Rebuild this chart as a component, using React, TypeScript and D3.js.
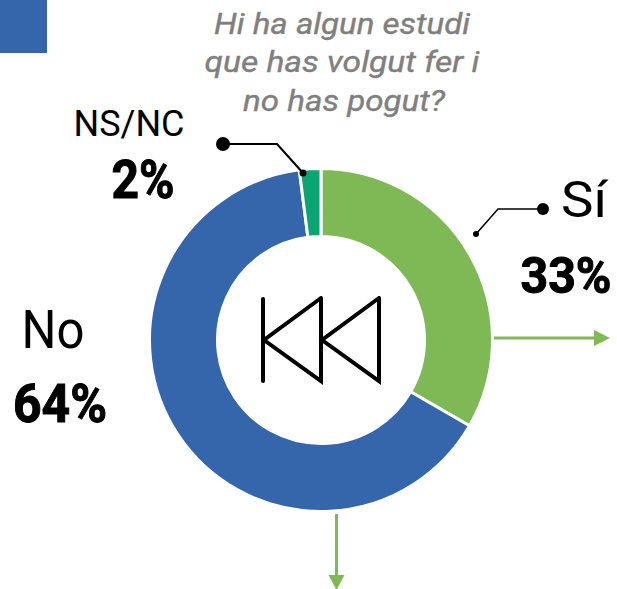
import React from "react";
import * as d3 from "d3";

const categories = ["Sí", "No", "NS/NC"];
const values = [33, 64, 2];
const percentLabels = ["33%", "64%", "2%"];
const sliceColors = ["#7FB955", "#3565AB", "#0AA573"];
const titleLines = ["Hi ha algun estudi", "que has volgut fer i", "no has pogut?"];
const FONT = "Roboto, sans-serif";

const W = 617, H = 589, CX = 321, CY = 340;

function Txt({ x, y, size, weight = 400, w, children, style = "normal", fill = "#000", bold = 0 }: any) {
  return (
    <text x={x} y={y} fontSize={size} fontWeight={weight} fontStyle={style} fill={fill} stroke={bold ? fill : "none"} strokeWidth={bold} fontFamily={FONT}
      textAnchor="middle" textLength={w} lengthAdjust="spacingAndGlyphs">{children}</text>
  );
}

export default function App() {
  const pie = d3.pie<number>().sort(null).value((d) => d);
  const arc = d3.arc<d3.PieArcDatum<number>>().innerRadius(103.5).outerRadius(171.5);
  const arcs = pie(values);
  const line = d3.line();
  return (
    <svg width={W} height={H} viewBox={`0 0 ${W} ${H}`} style={{ position: "absolute", left: 0, top: 0, background: "#fff" }}>
      <rect x={0} y={0} width={47} height={53} fill="#3565AB" />
      {titleLines.map((t, i) => (
        <Txt key={t} x={[342, 342, 344][i]} y={[34, 72, 111][i]} size={30} style="italic" fill="#7F7F7F" bold={0.4} w={[256, 275, 202][i]}>{t}</Txt>
      ))}
      <g transform={`translate(${CX},${CY})`}>
        {arcs.map((a, i) => (
          <path key={categories[i]} d={arc(a) ?? ""} fill={sliceColors[i]} stroke="#fff" strokeWidth={3} />
        ))}
      </g>
      {/* centre icon */}
      <g fill="none" stroke="#000" strokeWidth={4} strokeLinecap="round" strokeLinejoin="miter">
        <path d={line([[263, 299], [263, 381]]) ?? ""} />
        <path d={line([[321, 298], [321, 381], [264, 340], [321, 298]]) ?? ""} />
        <path d={line([[379, 298], [379, 381], [322, 340], [379, 298]]) ?? ""} />
      </g>
      {/* leader lines */}
      <path d="M223 144H277L303 173" fill="none" stroke="#000" strokeWidth={2} />
      <circle cx={223} cy={144} r={7} fill="#000" />
      <circle cx={303} cy={173} r={3.5} fill="#000" />
      <path d="M476 234L498 209H543" fill="none" stroke="#000" strokeWidth={1.5} />
      <circle cx={543} cy={209} r={6} fill="#000" />
      <circle cx={476} cy={234} r={3} fill="#000" />
      {/* arrows */}
      <path d="M494 338H595" stroke="#7FB955" strokeWidth={3} fill="none" />
      <path d="M594 330L610 338L594 346Z" fill="#7FB955" />
      <path d="M336.5 514V576" stroke="#7FB955" strokeWidth={3} fill="none" />
      <path d="M328.5 575L344.5 575L336.5 590Z" fill="#7FB955" />
      {/* labels */}
      <Txt x={129} y={136} size={36} w={111}>{categories[2]}</Txt>
      <Txt x={143} y={198} size={53} weight={700} w={63} bold={1}>{percentLabels[2]}</Txt>
      <Txt x={584} y={217} size={50} w={46}>{categories[0]}</Txt>
      <Txt x={566} y={293} size={50} weight={700} w={91} bold={1}>{percentLabels[0]}</Txt>
      <Txt x={53} y={348} size={53} w={63}>{categories[1]}</Txt>
      <Txt x={60} y={422} size={53} weight={700} w={94} bold={1}>{percentLabels[1]}</Txt>
    </svg>
  );
}
